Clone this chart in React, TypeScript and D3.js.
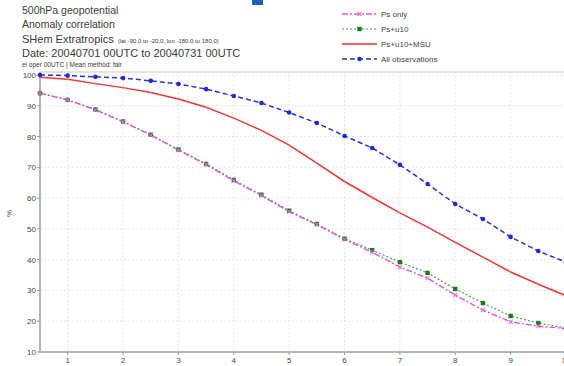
import React from "react";
import * as d3 from "d3";

// forecast day (every 12h)
const steps = [0.5, 1, 1.5, 2, 2.5, 3, 3.5, 4, 4.5, 5, 5.5, 6, 6.5, 7, 7.5, 8, 8.5, 9, 9.5, 10];

const psOnly = [94.1, 91.9, 88.7, 84.8, 80.5, 75.6, 70.9, 65.6, 60.8, 55.6, 51.4, 46.6, 42.4, 37.6, 34.0, 28.5, 23.6, 19.8, 18.4, 17.6];
const psU10 = [94.1, 91.9, 88.8, 84.9, 80.6, 75.8, 71.1, 65.9, 61.1, 55.9, 51.6, 46.8, 43.1, 39.2, 35.7, 30.5, 25.9, 21.7, 19.4, 17.8];
const psU10Msu = [99.3, 98.6, 97.2, 95.9, 94.3, 92.2, 89.5, 86.0, 82.0, 77.2, 71.4, 65.4, 60.2, 55.2, 50.6, 45.6, 40.8, 36.0, 32.0, 28.3];
const allObs = [100, 99.8, 99.4, 99.0, 98.1, 97.1, 95.4, 93.2, 90.9, 87.8, 84.4, 80.2, 76.3, 70.8, 64.6, 58.1, 53.2, 47.4, 42.8, 39.2];

const xTicks = [1, 2, 3, 4, 5, 6, 7, 8, 9, 10];
const yTicks = [10, 20, 30, 40, 50, 60, 70, 80, 90, 100];

const seriesNames = ["Ps only", "Ps+u10", "Ps+u10+MSU", "All observations"];

const W = 564;
const H = 366;
const left = 40;
const right = 566;
const top = 75;
const bottom = 352;

const font = "Liberation Sans, Arial, sans-serif";

type Style = { color: string; dash: string; width: number; marker: string; mcolor: string; msize: number };

const styles: Style[] = [
  { color: "#dd55dd", dash: "6,2,2,2", width: 1.4, marker: "cross", mcolor: "#e070e0", msize: 2 },
  { color: "#3d9a3d", dash: "2,2", width: 1.1, marker: "square", mcolor: "#187a18", msize: 2.2 },
  { color: "#ee3636", dash: "", width: 1.5, marker: "circle", mcolor: "#f07070", msize: 1 },
  { color: "#2434cc", dash: "5,3", width: 1.5, marker: "circle", mcolor: "#1a2ad8", msize: 2.3 },
];

function Marker({ x, y, s }: { x: number; y: number; s: Style }) {
  if (s.marker === "square")
    return <rect x={x - s.msize} y={y - s.msize} width={s.msize * 2} height={s.msize * 2} fill={s.mcolor} />;
  if (s.marker === "cross")
    return (
      <path
        d={`M${x - s.msize},${y - s.msize}L${x + s.msize},${y + s.msize}M${x - s.msize},${y + s.msize}L${x + s.msize},${y - s.msize}`}
        stroke={s.mcolor}
        strokeWidth={1.1}
      />
    );
  return <circle cx={x} cy={y} r={s.msize} fill={s.mcolor} />;
}

export default function App() {
  const x = d3.scaleLinear().domain([0.5, 10]).range([left, right]);
  const y = d3.scaleLinear().domain([10, 100]).range([bottom, top]);
  const line = d3
    .line<number>()
    .x((_, i) => x(steps[i]))
    .y((d) => y(d));

  const data = [psOnly, psU10, psU10Msu, allObs];
  const drawOrder = [2, 3, 1, 0];

  return (
    <svg
      width={W}
      height={H}
      style={{ position: "absolute", left: 0, top: 0, background: "#fff" }}
      fontFamily={font}
    >
      {/* header */}
      <rect x={252} y={0} width={11} height={5} fill="#1f5fbf" />
      <g fill="#3a3a3a">
        <text x={22} y={14} fontSize={10.5}>500hPa geopotential</text>
        <text x={22} y={28} fontSize={10.5}>Anomaly correlation</text>
        <text x={22} y={43} fontSize={11}>
          SHem Extratropics
          <tspan fontSize={6} dx={4}>(lat -90.0 to -20.0, lon -180.0 to 180.0)</tspan>
        </text>
        <text x={22} y={57} fontSize={11}>Date: 20040701 00UTC to 20040731 00UTC</text>
        <text x={22} y={67} fontSize={6.5}>ei oper 00UTC | Mean method: fair</text>
      </g>

      {/* legend */}
      {seriesNames.map((name, i) => {
        const s = styles[i];
        const ly = 14 + i * 15;
        return (
          <g key={name}>
            <line x1={342} x2={377} y1={ly} y2={ly} stroke={s.color} strokeWidth={s.width} strokeDasharray={s.dash} />
            <Marker x={359.5} y={ly} s={s} />
            <text x={381} y={ly + 3} fontSize={8} fill="#444">{name}</text>
          </g>
        );
      })}

      {/* grid */}
      <g stroke="#e2e2e2" strokeWidth={0.8} strokeDasharray="2,2">
        {xTicks.map((t) => (
          <line key={"gx" + t} x1={x(t)} x2={x(t)} y1={72} y2={bottom} />
        ))}
        {yTicks.slice(1).map((t) => (
          <line key={"gy" + t} x1={left} x2={W} y1={y(t)} y2={y(t)} />
        ))}
      </g>

      {/* frame */}
      <line x1={left} x2={W} y1={72} y2={72} stroke="#c8c8c8" strokeWidth={1} />
      <line x1={left} x2={left} y1={72} y2={bottom + 1} stroke="#b4b4b4" strokeWidth={2} />
      <line x1={left - 1} x2={W} y1={bottom} y2={bottom} stroke="#b4b4b4" strokeWidth={2} />

      {/* ticks */}
      <g fontSize={8} fill="#444">
        {yTicks.map((t) => (
          <g key={"yt" + t}>
            <line x1={left - 3} x2={left} y1={y(t)} y2={y(t)} stroke="#999" />
            <text x={left - 4} y={y(t) + 3} textAnchor="end">{t}</text>
          </g>
        ))}
        {xTicks.map((t) => (
          <g key={"xt" + t}>
            <line x1={x(t)} x2={x(t)} y1={bottom} y2={bottom + 3} stroke="#999" />
            <text x={x(t)} y={bottom + 11} textAnchor="middle">{t}</text>
          </g>
        ))}
        <text transform={`translate(12,${(top + bottom) / 2}) rotate(-90)`} textAnchor="middle" fontSize={8}>%</text>
      </g>

      {/* series */}
      {drawOrder.map((i) => (
        <path
          key={"l" + i}
          d={line(data[i]) || ""}
          fill="none"
          stroke={styles[i].color}
          strokeWidth={styles[i].width}
          strokeDasharray={styles[i].dash}
        />
      ))}
      {drawOrder.map((i) => (
        <g key={"m" + i}>
          {data[i].map((v, j) => (
            <Marker key={j} x={x(steps[j])} y={y(v)} s={styles[i]} />
          ))}
        </g>
      ))}
    </svg>
  );
}
